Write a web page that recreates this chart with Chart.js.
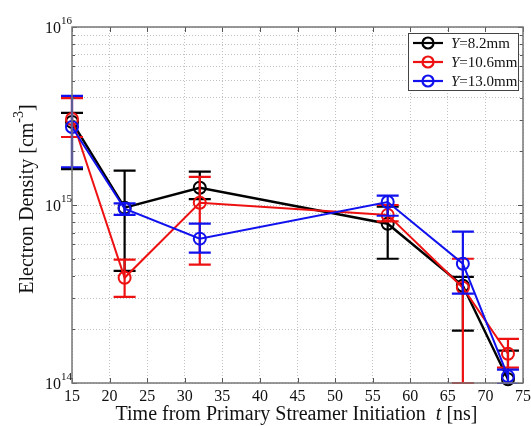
<!DOCTYPE html>
<html>
<head>
<meta charset="utf-8">
<script src="https://cdn.jsdelivr.net/npm/chart.js@4.4.0/dist/chart.umd.min.js"></script>
<style>
  html, body { margin: 0; padding: 0; background: #fff; }
  #wrap { width: 531px; height: 426px; }
</style>
</head>
<body>
<div id="wrap"><canvas id="chart" width="531" height="426"></canvas></div>
<script>
// time axis (ns)
const times = [15, 22, 32, 57, 67, 73];
const xTicks = [15, 20, 25, 30, 35, 40, 45, 50, 55, 60, 65, 70, 75];
const yMajor = [1e14, 1e15, 1e16];

// series labels (first letter drawn in italic)
const seriesLabels = ['Y=8.2mm', 'Y=10.6mm', 'Y=13.0mm'];

// Y = 8.2mm
const ne82 = [2.93e15, 0.966e15, 1.25e15, 0.785e15, 3.52e14, 1.05e14];
const ne82Hi = [3.29e15, 1.56e15, 1.54e15, 0.98e15, 3.95e14, 1.52e14];
const ne82Lo = [1.59e15, 4.27e14, 1.08e15, 4.99e14, 1.97e14, 0.72e14];

// Y = 10.6mm
const ne106 = [3.04e15, 3.9e14, 1.03e15, 0.88e15, 3.43e14, 1.46e14];
const ne106Hi = [3.99e15, 4.93e14, 1.44e15, 1.0e15, 4.99e14, 1.77e14];
const ne106Lo = [2.41e15, 3.05e14, 4.62e14, 0.81e15, 1.0e14, 1.22e14];

// Y = 13.0mm
const ne130 = [2.74e15, 0.953e15, 6.47e14, 1.04e15, 4.68e14, 1.09e14];
const ne130Hi = [4.10e15, 1.02e15, 7.85e14, 1.13e15, 7.08e14, 1.19e14];
const ne130Lo = [1.63e15, 0.88e15, 5.40e14, 0.87e15, 3.18e14, 0.99e14];

const SERIF = '"Liberation Serif", "DejaVu Serif", serif';
const colors = ['#000000', '#ee1111', '#1111ee'];

function pts(ys) {
    return times.map((t, i) => ({ x: t, y: ys[i] }));
}

// error bars, drawn right after each series
const errorBars = {
    id: 'errorBars',
    afterDatasetDraw(chart, args) {
        const ds = chart.data.datasets[args.index];
        const xs = chart.scales.x, ys = chart.scales.y;
        const ctx = chart.ctx, a = chart.chartArea;
        ctx.save();
        ctx.beginPath();
        ctx.rect(0, a.top - 1, chart.width, a.bottom - a.top + 2);
        ctx.clip();
        ctx.strokeStyle = ds.borderColor;
        ctx.lineWidth = 2.2;
        ds.data.forEach((p, i) => {
            const px = xs.getPixelForValue(p.x);
            const hi = ys.getPixelForValue(ds.errHi[i]);
            const lo = ys.getPixelForValue(ds.errLo[i]);
            ctx.beginPath();
            ctx.moveTo(px, hi); ctx.lineTo(px, lo);
            ctx.moveTo(px - 11, hi); ctx.lineTo(px + 11, hi);
            ctx.moveTo(px - 11, lo); ctx.lineTo(px + 11, lo);
            ctx.stroke();
        });
        ctx.restore();
    }
};

// box, ticks, labels, titles, legend
const decorations = {
    id: 'decorations',
    afterDraw(chart) {
        const ctx = chart.ctx, a = chart.chartArea;
        const xs = chart.scales.x, ys = chart.scales.y;
        ctx.save();

        // inner tick marks
        ctx.strokeStyle = '#555';
        ctx.lineWidth = 1;
        ctx.beginPath();
        xTicks.forEach(v => {
            const px = Math.round(xs.getPixelForValue(v)) + 0.5;
            ctx.moveTo(px, a.bottom); ctx.lineTo(px, a.bottom - 5);
            ctx.moveTo(px, a.top); ctx.lineTo(px, a.top + 5);
        });
        ys.ticks.forEach(t => {
            const py = Math.round(ys.getPixelForValue(t.value)) + 0.5;
            const len = yMajor.includes(t.value) ? 5 : 3;
            ctx.moveTo(a.left, py); ctx.lineTo(a.left + len, py);
            ctx.moveTo(a.right, py); ctx.lineTo(a.right - len, py);
        });
        ctx.stroke();

        // box
        ctx.strokeStyle = '#777';
        ctx.lineWidth = 1.5;
        ctx.strokeRect(a.left, a.top, a.right - a.left, a.bottom - a.top);

        ctx.fillStyle = '#111';
        // x tick labels
        ctx.font = '16px ' + SERIF;
        ctx.textAlign = 'center';
        ctx.textBaseline = 'middle';
        xTicks.forEach(v => ctx.fillText(String(v), xs.getPixelForValue(v), a.bottom + 14));

        // y tick labels 10^n
        yMajor.forEach(v => {
            const py = ys.getPixelForValue(v);
            const e = String(Math.round(Math.log10(v)));
            ctx.font = '16px ' + SERIF;
            ctx.textAlign = 'right';
            ctx.fillText('10', a.left - 11, py + 2);
            ctx.font = '11px ' + SERIF;
            ctx.textAlign = 'left';
            ctx.fillText(e, a.left - 11, py - 6);
        });

        // x title
        ctx.font = '20px ' + SERIF;
        const p1 = 'Time from Primary Streamer Initiation  ';
        const p3 = ' [ns]';
        const w1 = ctx.measureText(p1).width, w3 = ctx.measureText(p3).width;
        ctx.font = 'italic 20px ' + SERIF;
        const w2 = ctx.measureText('t').width;
        let x0 = (a.left + a.right) / 2 - (w1 + w2 + w3) / 2 - 1;
        ctx.textAlign = 'left';
        ctx.font = '20px ' + SERIF;
        ctx.fillText(p1, x0, 415);
        ctx.font = 'italic 20px ' + SERIF;
        ctx.fillText('t', x0 + w1, 415);
        ctx.font = '20px ' + SERIF;
        ctx.fillText(p3, x0 + w1 + w2, 415);

        // y title
        ctx.save();
        ctx.translate(26, 199);
        ctx.rotate(-Math.PI / 2);
        const q1 = 'Electron Density [cm', q2 = '-3', q3 = ']';
        ctx.font = '20px ' + SERIF;
        const v1 = ctx.measureText(q1).width, v3 = ctx.measureText(q3).width;
        ctx.font = '14px ' + SERIF;
        const v2 = ctx.measureText(q2).width;
        let y0 = -(v1 + v2 + v3) / 2;
        ctx.font = '20px ' + SERIF;
        ctx.fillText(q1, y0, 2);
        ctx.font = '14px ' + SERIF;
        ctx.fillText(q2, y0 + v1, -7);
        ctx.font = '20px ' + SERIF;
        ctx.fillText(q3, y0 + v1 + v2, 2);
        ctx.restore();

        // legend
        const lx = 408, ly = 33, lw = 110, lh = 57;
        ctx.fillStyle = '#fff';
        ctx.fillRect(lx, ly, lw, lh);
        ctx.strokeStyle = '#444';
        ctx.lineWidth = 1;
        ctx.strokeRect(lx + 0.5, ly + 0.5, lw, lh);
        chart.data.datasets.forEach((ds, i) => {
            const yy = ly + 10 + i * 19;
            ctx.strokeStyle = ds.borderColor;
            ctx.lineWidth = 2.2;
            ctx.beginPath();
            ctx.moveTo(lx + 5, yy); ctx.lineTo(lx + 35, yy);
            ctx.stroke();
            ctx.beginPath();
            ctx.arc(lx + 20, yy, 5.5, 0, Math.PI * 2);
            ctx.stroke();
            const lab = seriesLabels[i];
            ctx.fillStyle = '#111';
            ctx.textAlign = 'left';
            ctx.font = 'italic 15px ' + SERIF;
            ctx.fillText(lab[0], lx + 43, yy + 1);
            const iw = ctx.measureText(lab[0]).width;
            ctx.font = '15px ' + SERIF;
            ctx.fillText(lab.slice(1), lx + 43 + iw, yy + 1);
        });
        ctx.restore();
    }
};

function series(label, data, hi, lo, color, order, width) {
    return {
        label: label,
        data: pts(data),
        errHi: hi,
        errLo: lo,
        borderColor: color,
        backgroundColor: 'rgba(0,0,0,0)',
        borderWidth: width,
        pointRadius: 6,
        pointHoverRadius: 6,
        pointBorderWidth: 2,
        pointBackgroundColor: 'rgba(0,0,0,0)',
        pointBorderColor: color,
        tension: 0,
        clip: false,
        order: order
    };
}

new Chart(document.getElementById('chart'), {
    type: 'line',
    data: {
        datasets: [
            series(seriesLabels[0], ne82, ne82Hi, ne82Lo, colors[0], 3, 2.4),
            series(seriesLabels[1], ne106, ne106Hi, ne106Lo, colors[1], 2, 2),
            series(seriesLabels[2], ne130, ne130Hi, ne130Lo, colors[2], 1, 2)
        ]
    },
    options: {
        responsive: false,
        animation: false,
        events: [],
        layout: { padding: { left: 72, right: 8, top: 27, bottom: 43 } },
        plugins: { legend: { display: false }, tooltip: { enabled: false } },
        scales: {
            x: {
                type: 'linear',
                min: 15,
                max: 75,
                afterBuildTicks: s => { s.ticks = xTicks.map(v => ({ value: v })); },
                ticks: { display: false },
                grid: { color: '#c0c0c0', lineWidth: 1, drawTicks: false },
                border: { display: false, dash: [1, 2] }
            },
            y: {
                type: 'logarithmic',
                min: 1e14,
                max: 1e16,
                afterBuildTicks: s => {
                    const t = [];
                    [14, 15].forEach(e => {
                        for (let m = 1; m <= 9; m++) t.push({ value: m * Math.pow(10, e) });
                    });
                    t.push({ value: 1e16 });
                    s.ticks = t;
                },
                ticks: { display: false, autoSkip: false },
                grid: { color: '#c0c0c0', lineWidth: 1, drawTicks: false },
                border: { display: false, dash: [1, 2] }
            }
        }
    },
    plugins: [errorBars, decorations]
});
</script>
</body>
</html>
